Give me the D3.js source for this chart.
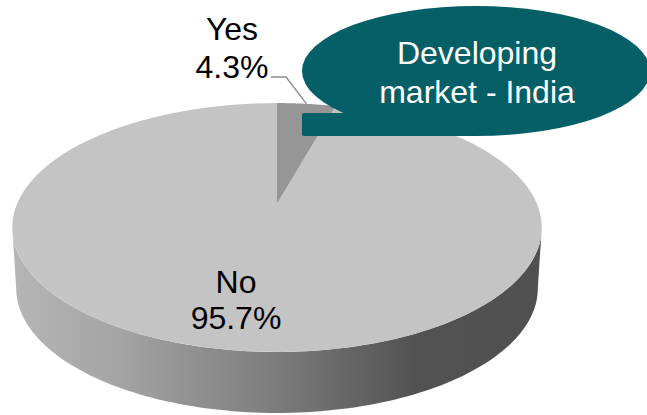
<!DOCTYPE html>
<html>
<head>
<meta charset="utf-8">
<script src="https://cdnjs.cloudflare.com/ajax/libs/d3/7.8.5/d3.min.js"></script>
<style>
html,body{margin:0;padding:0;background:#fff}
svg{display:block}
text{font-family:"Liberation Sans",Arial,sans-serif}
</style>
</head>
<body>
<svg id="chart" width="647" height="415"></svg>
<script>
const categories = ["Yes", "No"];
const shares = [4.3, 95.7];
const sliceColors = ["#969696", "#c4c4c4"];
const calloutLines = ["Developing", "market - India"];

const W = 647, H = 415;
const svg = d3.select("#chart");

// Pie plane seen in perspective: unit disc mapped onto the page.
const apexX = 277, apexY = 204, radiusX = 260, radiusY = 120, tilt = 0.1888, depth = 61;
const rimScale = 0.985;

function project(angle, r = 1, drop = 0, shrink = 1) {
  const px = Math.sin(angle) * r, py = Math.cos(angle) * r;
  const w = 1 + tilt * py;
  return [apexX + shrink * radiusX * px / w, apexY + drop - radiusY * py / w];
}

const pieLayout = d3.pie().value(d => d).sort(null);
const arcs = pieLayout(shares);
const line = d3.line();

function arcPoints(a0, a1, drop = 0, shrink = 1) {
  return d3.range(0, 121).map(i => project(a0 + (a1 - a0) * i / 120, 1, drop, shrink));
}

// Shading along the side wall of the disc.
const defs = svg.append("defs");
const wallGradient = defs.append("linearGradient")
  .attr("id", "wall").attr("gradientUnits", "userSpaceOnUse")
  .attr("x1", 12).attr("x2", 542).attr("y1", 0).attr("y2", 0);
[[0, "#b6b6b6"], [0.2, "#a4a4a4"], [0.5, "#7c7c7c"], [0.76, "#525252"], [1, "#505050"]]
  .forEach(([o, c]) => wallGradient.append("stop").attr("offset", o).attr("stop-color", c));

// Side wall: lower half of the top rim, closed along the bottom rim.
const edgeRight = Math.PI - Math.asin(Math.sqrt(1 - tilt * tilt));
const edgeLeft = 2 * Math.PI - edgeRight;
const wallPts = arcPoints(edgeRight, edgeLeft).concat(arcPoints(edgeLeft, edgeRight, depth, rimScale));
svg.append("path").attr("d", line(wallPts) + "Z").attr("fill", "url(#wall)");

// Top face slices.
svg.selectAll("path.slice").data(arcs).join("path")
  .attr("class", "slice")
  .attr("fill", (d, i) => sliceColors[i])
  .attr("d", d => line([[apexX, apexY], ...arcPoints(d.startAngle, d.endAngle)]) + "Z");

// Leader line from the small slice to its label.
const yesMid = (arcs[0].startAngle + arcs[0].endAngle) / 2;
const leaderEnd = project(yesMid, 1);
svg.append("path")
  .attr("d", line([[271, 77], [286, 77], leaderEnd]))
  .attr("fill", "none").attr("stroke", "#8a8a8a").attr("stroke-width", 1.3);

// Callout bubble; its tail runs flat into the bottom of the ellipse.
const bubble = svg.append("g").attr("fill", "#055f66");
bubble.append("ellipse").attr("cx", 476).attr("cy", 71).attr("rx", 174).attr("ry", 65);
bubble.append("rect").attr("x", 302).attr("y", 113).attr("width", 174).attr("height", 23).attr("rx", 2);

svg.append("g").selectAll("text").data(calloutLines).join("text")
  .attr("x", 477).attr("y", (d, i) => 64 + i * 39)
  .attr("text-anchor", "middle").attr("fill", "#ffffff").attr("font-size", 32)
  .text(d => d);

// Slice labels.
const labelSpots = [[232, 40], [236, 293]];
const labelGaps = [38, 36];
const labels = svg.append("g").selectAll("g").data(categories).join("g");
labels.append("text")
  .attr("x", (d, i) => labelSpots[i][0]).attr("y", (d, i) => labelSpots[i][1])
  .attr("text-anchor", "middle").attr("font-size", 32).attr("fill", "#000")
  .text(d => d);
labels.append("text")
  .attr("x", (d, i) => labelSpots[i][0]).attr("y", (d, i) => labelSpots[i][1] + labelGaps[i])
  .attr("text-anchor", "middle").attr("font-size", 32).attr("fill", "#000")
  .text((d, i) => shares[i].toFixed(1) + "%");
</script>
</body>
</html>
